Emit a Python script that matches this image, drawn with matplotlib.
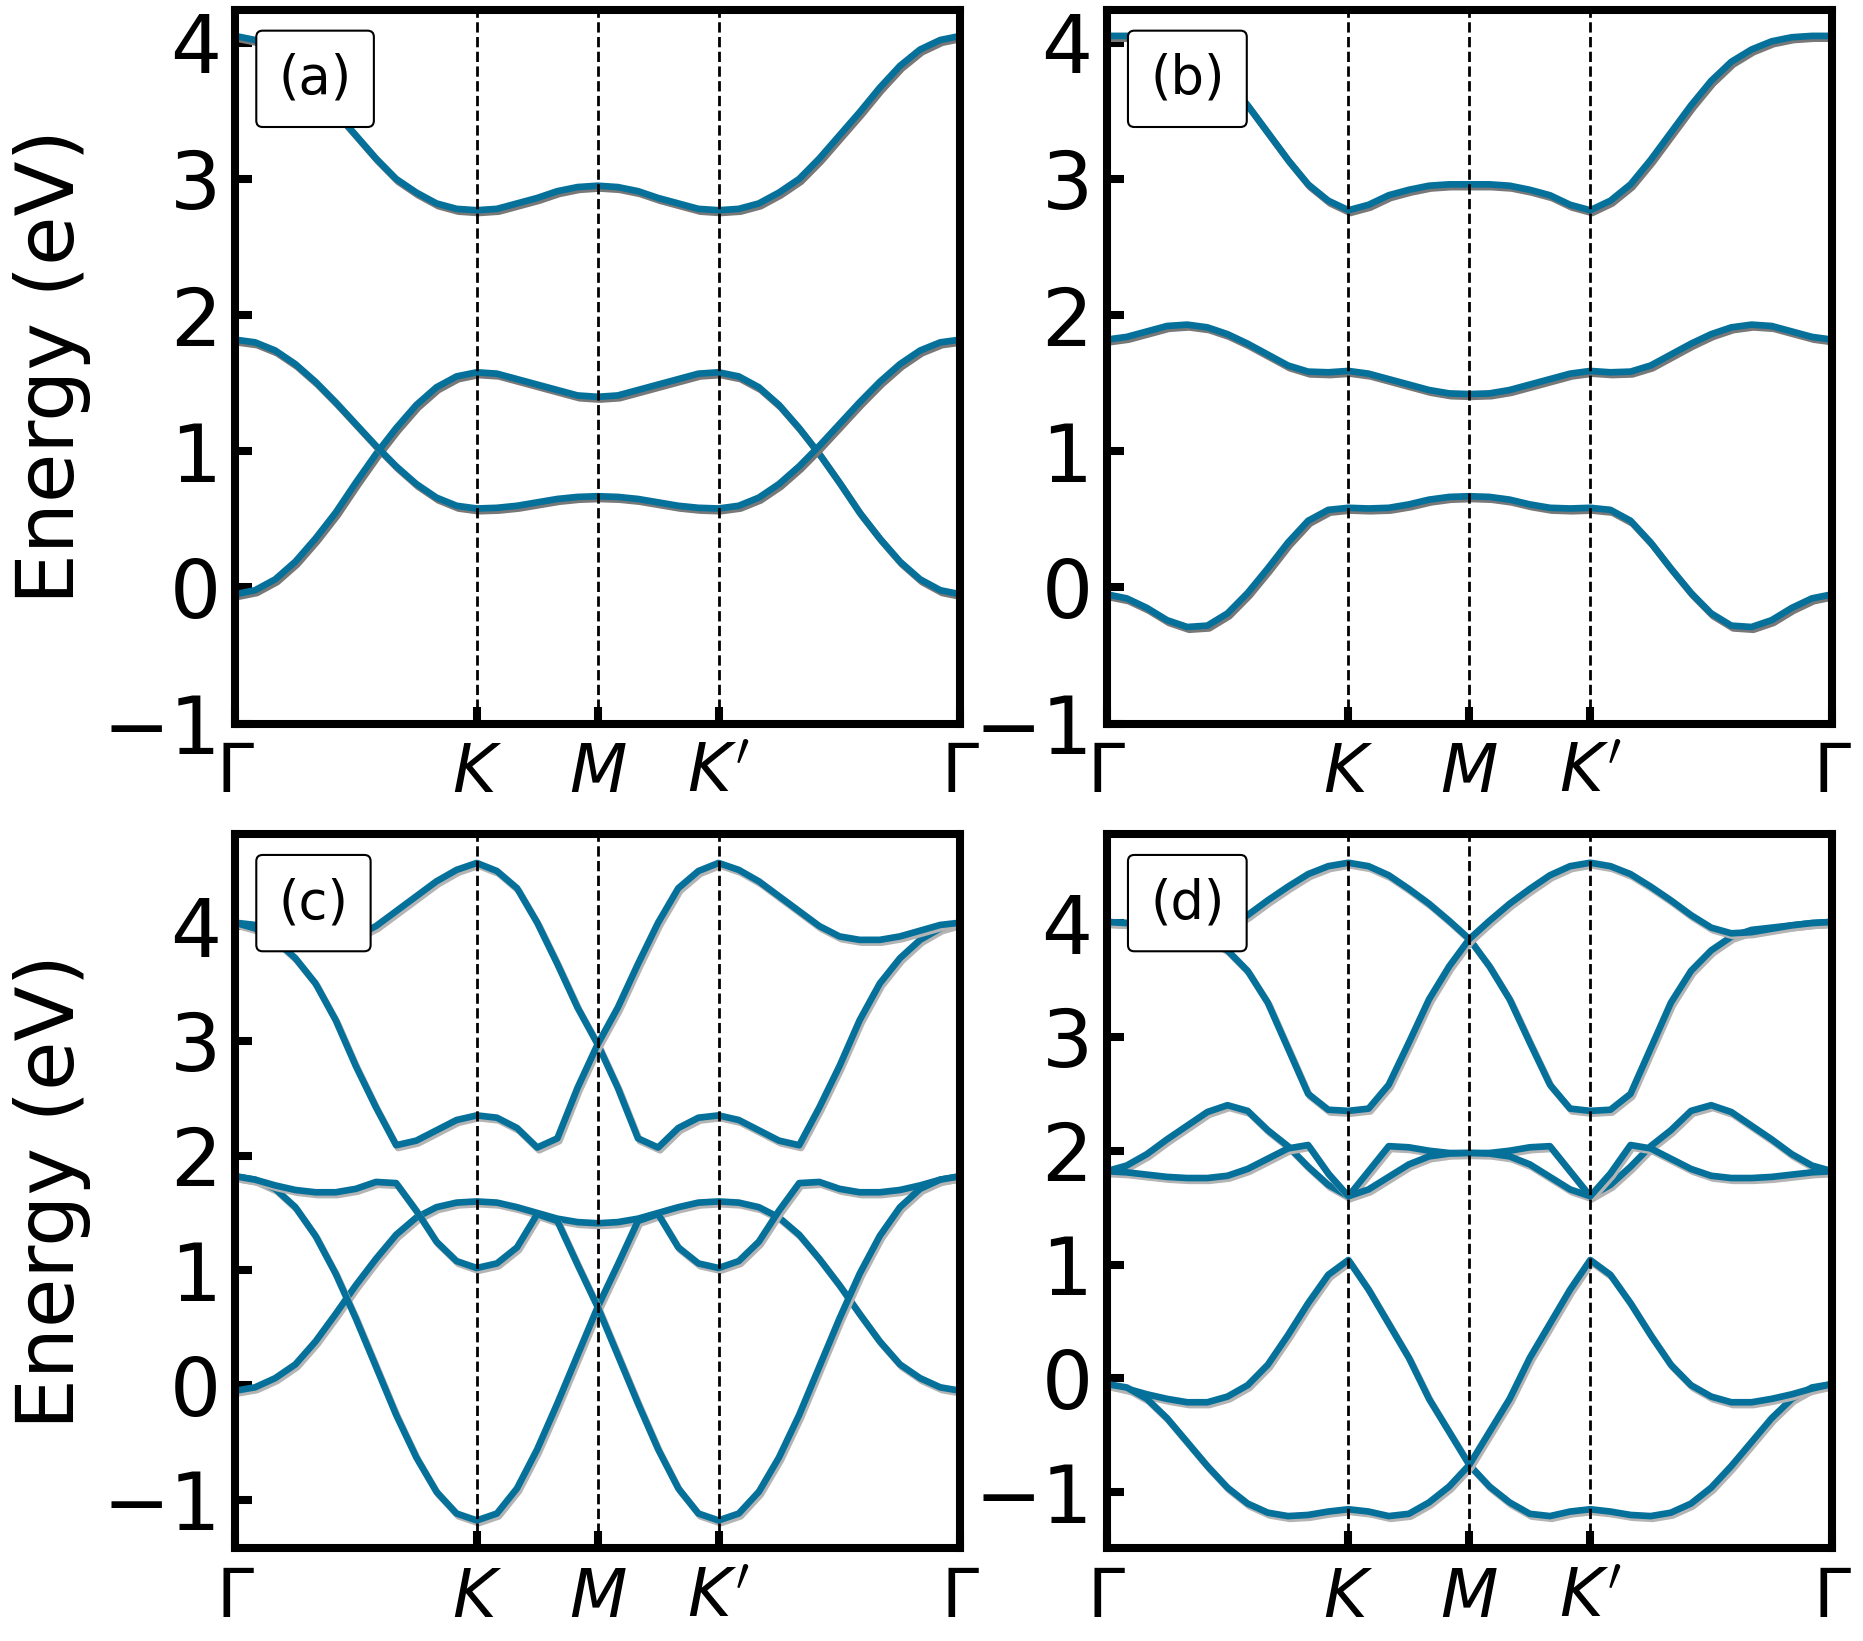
import matplotlib
matplotlib.use("Agg")
import matplotlib.pyplot as plt
import matplotlib.patheffects as pe
import numpy as np

# sample points along the path Gamma-K-M-K'-Gamma (K at 1/3, M at 1/2, K' at 2/3)
K_PATH = np.linspace(0.0, 1.0, 37)
K_TICKS = [0.0, 1 / 3, 1 / 2, 2 / 3, 1.0]
K_LABELS = [r"$\Gamma$", r"$K$", r"$M$", r"$K'$", r"$\Gamma$"]
E_TICKS = [-1, 0, 1, 2, 3, 4]

# (a)
A_BAND1 = [-0.05, -0.02, 0.06, 0.19, 0.36, 0.55, 0.77, 0.98, 1.17, 1.34, 1.47, 1.55, 1.58,
           1.57, 1.53, 1.49, 1.45, 1.41, 1.40, 1.41, 1.45, 1.49, 1.53, 1.57, 1.58,
           1.55, 1.47, 1.34, 1.17, 0.98, 0.77, 0.55, 0.36, 0.19, 0.06, -0.02, -0.05]
A_BAND2 = [1.82, 1.80, 1.74, 1.64, 1.51, 1.36, 1.20, 1.04, 0.89, 0.76, 0.66, 0.60, 0.58,
           0.585, 0.60, 0.625, 0.65, 0.665, 0.67, 0.665, 0.65, 0.625, 0.60, 0.585, 0.58,
           0.60, 0.66, 0.76, 0.89, 1.04, 1.20, 1.36, 1.51, 1.64, 1.74, 1.80, 1.82]
A_BAND3 = [4.05, 4.02, 3.95, 3.83, 3.67, 3.49, 3.32, 3.15, 3.00, 2.90, 2.82, 2.78, 2.77,
           2.78, 2.82, 2.86, 2.91, 2.94, 2.95, 2.94, 2.91, 2.86, 2.82, 2.78, 2.77,
           2.78, 2.82, 2.90, 3.00, 3.15, 3.32, 3.49, 3.67, 3.83, 3.95, 4.02, 4.05]

# (b)
B_BAND1 = [-0.05, -0.08, -0.15, -0.24, -0.29, -0.28, -0.19, -0.04, 0.14, 0.33, 0.49, 0.57, 0.585,
           0.58, 0.585, 0.61, 0.645, 0.665, 0.67, 0.665, 0.645, 0.61, 0.585, 0.58, 0.585,
           0.57, 0.49, 0.33, 0.14, -0.04, -0.19, -0.28, -0.29, -0.24, -0.15, -0.08, -0.05]
B_BAND2 = [1.82, 1.84, 1.88, 1.92, 1.93, 1.91, 1.86, 1.79, 1.71, 1.63, 1.585, 1.58, 1.59,
           1.57, 1.53, 1.49, 1.45, 1.425, 1.42, 1.425, 1.45, 1.49, 1.53, 1.57, 1.59,
           1.58, 1.585, 1.63, 1.71, 1.79, 1.86, 1.91, 1.93, 1.92, 1.88, 1.84, 1.82]
B_BAND3 = [4.05, 4.05, 4.04, 4.01, 3.95, 3.86, 3.72, 3.54, 3.34, 3.14, 2.96, 2.84, 2.77,
           2.81, 2.88, 2.92, 2.95, 2.96, 2.96, 2.96, 2.95, 2.92, 2.88, 2.81, 2.77,
           2.84, 2.96, 3.14, 3.34, 3.54, 3.72, 3.86, 3.95, 4.01, 4.04, 4.05, 4.05]

# (c)
C_BAND1 = [-0.05, -0.02, 0.06, 0.18, 0.38, 0.62, 0.87, 1.10, 1.31, 1.46, 1.55, 1.59, 1.60,
           1.59, 1.55, 1.50, 1.45, 1.42, 1.41, 1.42, 1.45, 1.50, 1.55, 1.59, 1.60,
           1.59, 1.55, 1.46, 1.31, 1.10, 0.87, 0.62, 0.38, 0.18, 0.06, -0.02, -0.05]
C_BAND2 = [1.82, 1.79, 1.71, 1.55, 1.30, 0.97, 0.58, 0.16, -0.26, -0.63, -0.93, -1.12, -1.18,
           -1.12, -0.90, -0.56, -0.16, 0.26, 0.68, 1.05, 1.43, 1.49, 1.20, 1.06, 1.02,
           1.08, 1.25, 1.52, 1.76, 1.77, 1.71, 1.68, 1.68, 1.70, 1.74, 1.79, 1.82]
C_BAND3 = [1.82, 1.79, 1.74, 1.70, 1.68, 1.68, 1.71, 1.77, 1.76, 1.52, 1.25, 1.08, 1.02,
           1.06, 1.20, 1.49, 1.43, 1.05, 0.68, 0.26, -0.16, -0.56, -0.90, -1.12, -1.18,
           -1.12, -0.93, -0.63, -0.26, 0.16, 0.58, 0.97, 1.30, 1.55, 1.71, 1.79, 1.82]
C_BAND4 = [4.03, 4.01, 3.96, 3.91, 3.88, 3.88, 3.91, 4.00, 4.13, 4.26, 4.39, 4.49, 4.55,
           4.48, 4.33, 4.03, 3.67, 3.29, 2.97, 2.59, 2.15, 2.07, 2.24, 2.33, 2.35,
           2.31, 2.22, 2.13, 2.09, 2.42, 2.78, 3.18, 3.50, 3.72, 3.88, 3.98, 4.03]
C_BAND5 = [4.03, 3.98, 3.88, 3.72, 3.50, 3.18, 2.78, 2.42, 2.09, 2.13, 2.22, 2.31, 2.35,
           2.33, 2.24, 2.07, 2.15, 2.59, 2.97, 3.29, 3.67, 4.03, 4.33, 4.48, 4.55,
           4.49, 4.39, 4.26, 4.13, 4.00, 3.91, 3.88, 3.88, 3.91, 3.96, 4.01, 4.03]

# (d)
D_BAND1 = [-0.05, -0.09, -0.14, -0.18, -0.21, -0.21, -0.16, -0.06, 0.12, 0.38, 0.66, 0.91, 1.04,
           0.78, 0.48, 0.18, -0.18, -0.47, -0.76, -0.95, -1.09, -1.19, -1.21, -1.17, -1.15,
           -1.17, -1.20, -1.21, -1.18, -1.10, -0.96, -0.77, -0.56, -0.35, -0.18, -0.08, -0.05]
D_BAND2 = [-0.05, -0.08, -0.18, -0.35, -0.56, -0.77, -0.96, -1.10, -1.18, -1.21, -1.20, -1.17, -1.15,
           -1.17, -1.21, -1.19, -1.09, -0.95, -0.76, -0.47, -0.18, 0.18, 0.48, 0.78, 1.04,
           0.91, 0.66, 0.38, 0.12, -0.06, -0.16, -0.21, -0.21, -0.18, -0.14, -0.09, -0.05]
D_BAND3 = [1.82, 1.87, 1.97, 2.10, 2.22, 2.34, 2.40, 2.35, 2.18, 2.04, 1.86, 1.70, 1.60,
           1.82, 2.04, 2.03, 2.00, 1.98, 1.98, 1.98, 2.00, 2.03, 2.04, 1.82, 1.60,
           1.70, 1.86, 2.04, 2.18, 2.35, 2.40, 2.34, 2.22, 2.10, 1.97, 1.87, 1.82]
D_BAND4 = [1.82, 1.81, 1.79, 1.77, 1.76, 1.76, 1.78, 1.84, 1.93, 2.02, 2.05, 1.80, 1.60,
           1.66, 1.77, 1.88, 1.95, 1.975, 1.98, 1.975, 1.95, 1.88, 1.77, 1.66, 1.60,
           1.80, 2.05, 2.02, 1.93, 1.84, 1.78, 1.76, 1.76, 1.77, 1.79, 1.81, 1.82]
D_BAND5 = [4.01, 4.00, 3.98, 3.95, 3.92, 3.91, 3.96, 4.07, 4.20, 4.32, 4.43, 4.50, 4.53,
           4.50, 4.42, 4.30, 4.17, 4.02, 3.86, 3.62, 3.33, 2.95, 2.58, 2.37, 2.35,
           2.36, 2.50, 2.90, 3.30, 3.58, 3.76, 3.88, 3.94, 3.96, 3.98, 4.00, 4.01]
D_BAND6 = [4.01, 4.00, 3.98, 3.96, 3.94, 3.88, 3.76, 3.58, 3.30, 2.90, 2.50, 2.36, 2.35,
           2.37, 2.58, 2.95, 3.33, 3.62, 3.86, 4.02, 4.17, 4.30, 4.42, 4.50, 4.53,
           4.50, 4.43, 4.32, 4.20, 4.07, 3.96, 3.91, 3.92, 3.95, 3.98, 4.00, 4.01]

PANEL_LABELS = ["(a)", "(b)", "(c)", "(d)"]
PANEL_BANDS = [
    [A_BAND1, A_BAND2, A_BAND3],
    [B_BAND1, B_BAND2, B_BAND3],
    [C_BAND1, C_BAND2, C_BAND3, C_BAND4, C_BAND5],
    [D_BAND1, D_BAND2, D_BAND3, D_BAND4, D_BAND5, D_BAND6],
]
PANEL_YLIMS = [(-1.0, 4.24), (-1.0, 4.24), (-1.42, 4.8), (-1.49, 4.78)]

LINE_COLOR = "#05709a"
SHADOW_COLORS = ["#787878", "#787878", "#b4b4b4", "#b4b4b4"]

fig, axes = plt.subplots(2, 2, figsize=(18.63, 16.41), dpi=100)
fig.subplots_adjust(left=0.1261, right=0.9834, top=0.9939, bottom=0.0567,
                    wspace=0.2015, hspace=0.155)

for idx, ax in enumerate(axes.flat):
    shadow = [pe.SimpleLineShadow(offset=(1.4, -2.0), shadow_color=SHADOW_COLORS[idx], alpha=1.0),
              pe.Normal()]
    for band in PANEL_BANDS[idx]:
        ax.plot(K_PATH, band, color=LINE_COLOR, lw=4.8, solid_capstyle="round",
                solid_joinstyle="round", path_effects=shadow, zorder=2)

    for k in K_TICKS[1:-1]:
        ax.axvline(k, color="black", ls="--", lw=2.0, zorder=3)

    ax.set_xlim(0, 1)
    ax.set_ylim(*PANEL_YLIMS[idx])
    ax.set_xticks(K_TICKS)
    ax.set_xticklabels(K_LABELS)
    ax.set_yticks(E_TICKS)

    for spine in ax.spines.values():
        spine.set_linewidth(5.8)
    ax.tick_params(axis="both", direction="in", length=12, width=5.8)
    ax.tick_params(axis="y", labelsize=58, pad=10)
    ax.tick_params(axis="x", labelsize=48, pad=12)

    if idx % 2 == 0:
        ax.set_ylabel("Energy (eV)", fontsize=58, labelpad=8)

    ax.text(0.06, 0.94, PANEL_LABELS[idx], transform=ax.transAxes, ha="left", va="top",
            fontsize=38, zorder=5,
            bbox=dict(boxstyle="round,pad=0.42,rounding_size=0.12", facecolor="white",
                      edgecolor="black", linewidth=1.5))

fig.savefig("out.png", dpi=100)
